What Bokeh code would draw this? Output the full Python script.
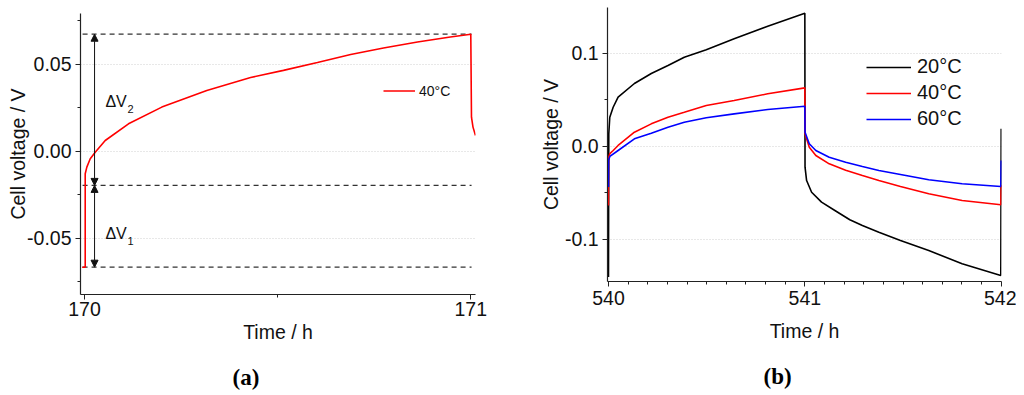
from bokeh.plotting import figure
from bokeh.layouts import row
from bokeh.models import (Range1d, FixedTicker, NumeralTickFormatter, Legend, LegendItem,
                          Arrow, NormalHead, Title)
from bokeh.core.properties import value
from bokeh.embed import file_html
from bokeh.resources import INLINE

FONT = "Liberation Sans"

# ---------------- panel (a): one cycle at 40 °C ----------------
t_a = [169.994, 170.0018, 170.0018, 170.006, 170.0148, 170.0277, 170.0536, 170.1139,
       170.2001, 170.3166, 170.430, 170.515, 170.603, 170.689, 170.774, 170.862,
       170.947, 171.000, 171.0018, 171.0057, 171.0122]
v_a = [-0.0665, -0.0665, -0.0128, -0.0090, -0.0042, -0.0004, 0.0063, 0.0159,
       0.0255, 0.0351, 0.0425, 0.0466, 0.0511, 0.0557, 0.0595, 0.0629,
       0.0658, 0.0674, 0.0197, 0.0140, 0.0092]
a_label = "40°C"

dv_levels = [0.0674, -0.0195, -0.0665]      # dashed guide levels
dv_span = [169.995, 171.002]                # time extent of the dashed guides
arrow_t = 170.026
dv_text = ["ΔV", "ΔV"]
dv_sub = ["2", "1"]
dv_text_t = [170.054, 170.054]
dv_text_v = [0.0287, -0.0474]

# ---------------- panel (b): three temperatures ----------------
temps = ["20°C", "40°C", "60°C"]
colors = ["#000000", "#ff0000", "#0000ff"]

t_20 = [540.000, 540.0015, 540.0066, 540.0238, 540.049, 540.132, 540.218, 540.303,
        540.386, 540.498, 540.640, 540.811, 541.000, 541.001, 541.009, 541.0345,
        541.085, 541.153, 541.229, 541.293, 541.377, 541.487, 541.631, 541.801,
        541.998, 542.000]
v_20 = [-0.141, 0.0134, 0.0313, 0.0420, 0.0528, 0.0676, 0.0784, 0.0870,
        0.0959, 0.1039, 0.1157, 0.1293, 0.1433, -0.0226, -0.0370, -0.0496,
        -0.0603, -0.0693, -0.0793, -0.0855, -0.0927, -0.1016, -0.1124, -0.1267,
        -0.1393, 0.0187]

t_40 = [540.000, 540.0005, 540.007, 540.024, 540.049, 540.132, 540.218, 540.303,
        540.386, 540.498, 540.640, 540.811, 541.000, 541.001, 541.0226, 541.056,
        541.124, 541.208, 541.293, 541.377, 541.487, 541.631, 541.801, 541.998,
        542.000]
v_40 = [-0.064, -0.012, -0.008, -0.0046, 0.0008, 0.0151, 0.0241, 0.0313,
        0.0366, 0.0439, 0.0492, 0.0565, 0.0629, 0.0134, -0.0010, -0.0100,
        -0.0190, -0.0260, -0.0316, -0.0370, -0.0434, -0.0513, -0.0585, -0.0631,
        -0.0420]

t_60 = [540.000, 540.0005, 540.007, 540.049, 540.132, 540.218, 540.303, 540.386,
        540.498, 540.640, 540.811, 541.000, 541.001, 541.0226, 541.056, 541.124,
        541.208, 541.293, 541.377, 541.487, 541.631, 541.801, 541.998, 542.000]
v_60 = [-0.044, -0.015, -0.011, -0.0046, 0.0080, 0.0140, 0.0205, 0.0259,
        0.0306, 0.0349, 0.0395, 0.0431, 0.0151, 0.0026, -0.0046, -0.0119,
        -0.0172, -0.0219, -0.0262, -0.0305, -0.0362, -0.0405, -0.0434, -0.0154]

x_label = "Time / h"
y_label = "Cell voltage / V"
panel_tags = ["(a)", "(b)"]


def style_axes(p):
    p.outline_line_color = None
    p.xgrid.visible = False
    p.ygrid.grid_line_color = "#d0d0d0"
    p.ygrid.grid_line_dash = "1 2"
    p.ygrid.grid_line_width = 1
    for ax in (p.xaxis[0], p.yaxis[0]):
        ax.axis_line_color = "#222222"
        ax.axis_line_width = 1.2
        ax.major_tick_line_color = "#222222"
        ax.minor_tick_line_color = "#222222"
        ax.major_tick_out = 5
        ax.major_tick_in = 0
        ax.minor_tick_out = 3
        ax.minor_tick_in = 0
        ax.major_label_text_font = FONT
        ax.major_label_text_font_size = "19.5px"
        ax.major_label_text_color = "#111111"
        ax.axis_label_text_font = FONT
        ax.axis_label_text_font_size = "19.5px"
        ax.axis_label_text_font_style = "normal"
        ax.axis_label_text_color = "#111111"


def tag(p, text, offset, gap_font):
    # blank spacer title, then the bold panel tag as a bottom title
    p.add_layout(Title(text=" ", text_font_size=gap_font, standoff=0), "below")
    p.add_layout(Title(text=text, align="left", offset=offset, text_font="Liberation Serif",
                       text_font_size="23px", text_font_style="bold", text_color="#000000",
                       standoff=0), "below")


# ---------------- figure (a) ----------------
# frame: top 13 px, bottom 294 px, left 80 px, right 475 px
pa = figure(width=536, height=395, output_backend="svg", toolbar_location=None,
            x_range=Range1d(169.9896, 171.0122), y_range=Range1d(-0.0822, 0.0793),
            min_border_left=80, min_border_right=61, min_border_top=13, min_border_bottom=101,
            x_axis_label=x_label, y_axis_label=y_label)
pa.frame_align = False
style_axes(pa)
pa.xaxis.ticker = FixedTicker(ticks=[170, 171], minor_ticks=[170.5])
pa.yaxis.ticker = FixedTicker(ticks=[-0.05, 0.0, 0.05], minor_ticks=[-0.075, -0.025, 0.025, 0.075])
pa.xaxis.formatter = NumeralTickFormatter(format="0")
pa.yaxis.formatter = NumeralTickFormatter(format="0.00")
pa.xaxis.major_label_standoff = 2
pa.xaxis.axis_label_standoff = 2
pa.yaxis.major_label_standoff = 4
pa.yaxis.axis_label_standoff = -5

for lv in dv_levels:
    pa.segment(x0=dv_span[0], y0=lv, x1=dv_span[1], y1=lv, line_color="#333333",
               line_width=1.2, line_dash="5 4")

ra = pa.line(t_a, v_a, line_color="#ff0000", line_width=1.6)

for y0, y1 in ((dv_levels[1], dv_levels[0]), (dv_levels[2], dv_levels[1])):
    pa.add_layout(Arrow(x_start=arrow_t, y_start=y0, x_end=arrow_t, y_end=y1,
                        start=NormalHead(size=7, fill_color="#111111", line_color="#111111"),
                        end=NormalHead(size=7, fill_color="#111111", line_color="#111111"),
                        line_color="#111111", line_width=1))

pa.text(x=dv_text_t, y=dv_text_v, text=dv_text, text_font=value(FONT), text_font_size="16px",
        text_color="#111111", text_align="left", text_baseline="middle")
pa.text(x=dv_text_t, y=dv_text_v, text=dv_sub, text_font=value(FONT), text_font_size="11px",
        text_color="#111111", text_align="left", text_baseline="middle",
        x_offset=22, y_offset=7)

leg_a = Legend(items=[LegendItem(label=a_label, renderers=[ra])], location=(303, 195),
               glyph_width=32, glyph_height=17, label_height=17, label_standoff=4,
               label_text_font=FONT, label_text_font_size="14px", label_text_color="#111111",
               padding=0, margin=0, spacing=0, border_line_color=None, background_fill_alpha=0)
pa.add_layout(leg_a)
tag(pa, panel_tags[0], 152, "13px")

# ---------------- figure (b) ----------------
# frame: top 7 px, bottom 281 px, left 606 px, right 1001 px
pb = figure(width=480, height=395, output_backend="svg", toolbar_location=None,
            x_range=Range1d(539.995, 542.0015), y_range=Range1d(-0.1458, 0.1495),
            min_border_left=70, min_border_right=15, min_border_top=7, min_border_bottom=114,
            x_axis_label=x_label, y_axis_label=y_label)
pb.frame_align = False
style_axes(pb)
pb.xaxis.ticker = FixedTicker(ticks=[540, 541, 542],
                              minor_ticks=[540.1, 540.2, 540.3, 540.4, 540.5, 540.6, 540.7, 540.8, 540.9,
                                           541.1, 541.2, 541.3, 541.4, 541.5, 541.6, 541.7, 541.8, 541.9])
pb.yaxis.ticker = FixedTicker(ticks=[-0.1, 0.0, 0.1], minor_ticks=[-0.05, 0.05])
pb.xaxis.formatter = NumeralTickFormatter(format="0")
pb.yaxis.formatter = NumeralTickFormatter(format="0.0")
pb.xaxis.major_label_standoff = 4
pb.xaxis.axis_label_standoff = 12
pb.yaxis.major_label_standoff = 4
pb.yaxis.axis_label_standoff = 0

series_t = [t_20, t_40, t_60]
series_v = [v_20, v_40, v_60]
items = []
for name, col, tt, vv in zip(temps, colors, series_t, series_v):
    r = pb.line(tt, vv, line_color=col, line_width=1.6)
    items.append(LegendItem(label=name, renderers=[r]))

leg_b = Legend(items=items, location=(259, 151),
               glyph_width=45, glyph_height=22, label_height=22, label_standoff=6,
               label_text_font=FONT, label_text_font_size="20px", label_text_color="#111111",
               padding=0, margin=0, spacing=3, border_line_color=None, background_fill_alpha=0)
pb.add_layout(leg_b)
tag(pb, panel_tags[1], 156, "13px")

layout = row(pa, pb)
open("out.html", "w").write(file_html(layout, INLINE))
